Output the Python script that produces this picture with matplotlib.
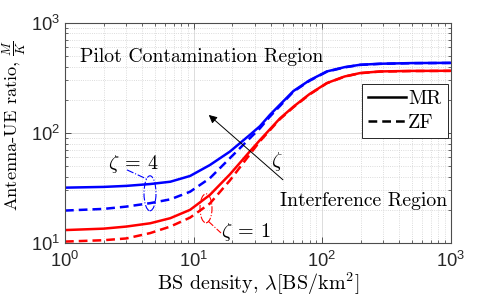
import matplotlib
matplotlib.use("Agg")
import matplotlib.pyplot as plt
from matplotlib.patches import Ellipse
from matplotlib.lines import Line2D

# ---- data ----
density = [1, 2, 3, 4.6, 6.6, 9.4, 13.4, 19.2, 27.5, 32.9, 39.4, 47, 60, 80, 109, 150, 198, 283, 500, 1000]
mr_zeta4 = [31.8, 32.3, 33, 34.3, 36, 40.6, 51, 67.6, 96, 115, 146, 180, 240, 300, 361, 395, 415, 424, 430, 432]
zf_zeta4 = [19.7, 20.4, 21.4, 23, 24.9, 29.2, 38.7, 58.9, 89.5, 110, 141, 175, 237, 297, 359, 393, 414, 423, 429, 431]
mr_zeta1 = [13.1, 13.5, 14.1, 15.1, 16.8, 20, 27.3, 42, 68, 86, 108, 135, 173, 225, 283, 325, 349, 361, 365, 366]
zf_zeta1 = [10.3, 10.6, 11, 12.3, 14.1, 17, 22.8, 37, 64, 84, 106, 133, 171, 223, 282, 324, 348, 360, 364, 365]
legend_labels = ["MR", "ZF"]

plt.rcParams['font.family'] = ['Liberation Sans', 'DejaVu Sans']
plt.rcParams['axes.unicode_minus'] = False

W, H = 498, 304
fig = plt.figure(figsize=(W / 100, H / 100), dpi=100)
ax = fig.add_axes([65 / W, 1 - 243 / H, (450.5 - 65) / W, (243 - 22.7) / H])

lw = 1.8
dash = (3.5, 2.0)
ax.plot(density, mr_zeta4, color='#0000ff', lw=lw)
ax.plot(density, zf_zeta4, color='#0000ff', lw=lw, linestyle=(0, dash))
ax.plot(density, mr_zeta1, color='#ff0000', lw=lw)
ax.plot(density, zf_zeta1, color='#ff0000', lw=lw, linestyle=(0, dash))

ax.set_xscale('log')
ax.set_yscale('log')
ax.set_xlim(1, 1000)
ax.set_ylim(10, 1000)

ax.grid(True, which='major', color='#dcdcdc', lw=0.7, linestyle='-')
ax.grid(True, which='minor', color='#d0d0d0', lw=0.6, linestyle=':')
ax.set_axisbelow(True)
for s in ax.spines.values():
    s.set_color('#4d4d4d')
    s.set_linewidth(0.8)
ax.tick_params(which='both', direction='in', top=True, right=True, colors='#4d4d4d',
               labelcolor='#262626', labelsize=13.2)
ax.tick_params(which='major', length=4.5, width=0.7, pad=3.5)
ax.tick_params(axis='x', which='major', pad=5.5)
ax.tick_params(which='minor', length=2.5, width=0.6)

serif = dict(family='cmr10', math_fontfamily='cm')
ax.set_xlabel(r'BS density, $\lambda[\mathrm{BS/km}^2]$', fontsize=14.5, labelpad=0, **serif)
fig.text(14 / W, 1 - 125 / H, r'Antenna-UE ratio, $\frac{M}{K}$', fontsize=13.2, rotation=90,
         ha='center', va='center', **serif)


def px2data(px, py):
    x = 10 ** ((px - 65) / 128.5)
    y = 10 ** (1 + (243 - py) / 110)
    return x, y


# region labels
ax.text(*px2data(80, 57), 'Pilot Contamination Region', fontsize=14.2, va='center', ha='left', **serif)
ax.text(*px2data(447, 201), 'Interference Region', fontsize=14.2, va='center', ha='right', **serif)

# legend
handles = [Line2D([], [], color='k', lw=lw), Line2D([], [], color='k', lw=lw, linestyle=(0, dash))]
leg = ax.legend(handles, legend_labels, loc='upper left',
                bbox_to_anchor=((362 - 65) / 385.5, (243 - 84) / 220.3),
                prop=dict(family='cmr10', size=14.5), handlelength=1.9, handletextpad=0.1,
                borderpad=0.3, labelspacing=0.3, fancybox=False, framealpha=1, borderaxespad=0)
leg.get_frame().set_edgecolor('#262626')
leg.get_frame().set_linewidth(0.7)

# arrow
ax.annotate('', xy=px2data(206.7, 113.3), xytext=px2data(285, 181.7),
            arrowprops=dict(arrowstyle='-|>', color='k', lw=0.7, mutation_scale=12))
ax.text(*px2data(277, 162), r'$\zeta$', fontsize=15, ha='center', va='center', math_fontfamily='cm')

# zeta = 4 ellipse
ax.add_patch(Ellipse(xy=((150 - 65) / 385.5, (243 - 193.3) / 220.3), width=12 / 385.5, height=35 / 220.3,
                     transform=ax.transAxes, fill=False, edgecolor='#0000ff', lw=0.8, linestyle='-.'))
ax.plot(*zip(px2data(127, 170), px2data(146.5, 179)), color='#0000ff', lw=0.8, linestyle='-.')
ax.text(*px2data(133, 164), r'$\zeta\:=\:4$', fontsize=14.5, ha='center', va='center', math_fontfamily='cm')

# zeta = 1 ellipse
ax.add_patch(Ellipse(xy=((206 - 65) / 385.5, (243 - 208.3) / 220.3), width=12 / 385.5, height=29 / 220.3,
                     transform=ax.transAxes, fill=False, edgecolor='#ff0000', lw=0.8, linestyle='-.'))
ax.plot(*zip(px2data(208, 221), px2data(221, 233)), color='#ff0000', lw=0.8, linestyle='-.')
ax.text(*px2data(246, 232.5), r'$\zeta\:=\:1$', fontsize=14.5, ha='center', va='center', math_fontfamily='cm')

fig.savefig('out.png', dpi=100)
